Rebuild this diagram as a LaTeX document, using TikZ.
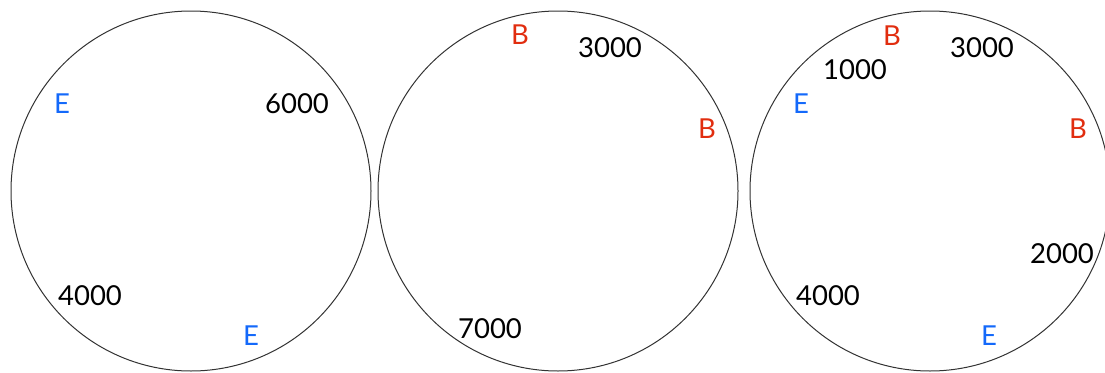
\documentclass[tikz,border=0pt]{standalone}
\usepackage{fontspec}
\setmainfont{Lato}
\definecolor{eblue}{RGB}{20,105,250}
\definecolor{bred}{RGB}{225,45,15}
\tikzset{
  ring/.style={draw=black!80, line width=1pt},
  lbl/.style={inner sep=0pt, font=\fontsize{27.5}{31}\selectfont},
  num/.style={lbl, text=black},
  eend/.style={lbl, text=eblue},
  bbeg/.style={lbl, text=bred}
}
\begin{document}
\begin{tikzpicture}[x=1pt,y=-1pt]
\useasboundingbox (0,0) rectangle (1105,372);
\clip (0,0) rectangle (1105,372);
% circle 1
\node[ring, circle, minimum size=360pt] (c1) at (191,191) {};
\node[eend] (e1a) at (62,104) {E};
\node[num] (n1a) at (297,104) {6000};
\node[num] (n1b) at (90,296) {4000};
\node[eend] (e1b) at (251,336) {E};
% circle 2
\node[ring, circle, minimum size=360pt] (c2) at (558,191) {};
\node[bbeg] (b2a) at (520,35) {B};
\node[num] (n2a) at (610,48) {3000};
\node[bbeg] (b2b) at (707,129) {B};
\node[num] (n2b) at (490,329) {7000};
% circle 3
\node[ring, circle, minimum size=360pt] (c3) at (930,191) {};
\node[bbeg] (b3a) at (892,36) {B};
\node[num] (n3a) at (982,48) {3000};
\node[num] (n3b) at (855,70) {1000};
\node[eend] (e3a) at (801,104) {E};
\node[bbeg] (b3b) at (1078,129) {B};
\node[num] (n3c) at (1062,254) {2000};
\node[num] (n3d) at (828,296) {4000};
\node[eend] (e3b) at (989,336) {E};
\end{tikzpicture}
\end{document}
